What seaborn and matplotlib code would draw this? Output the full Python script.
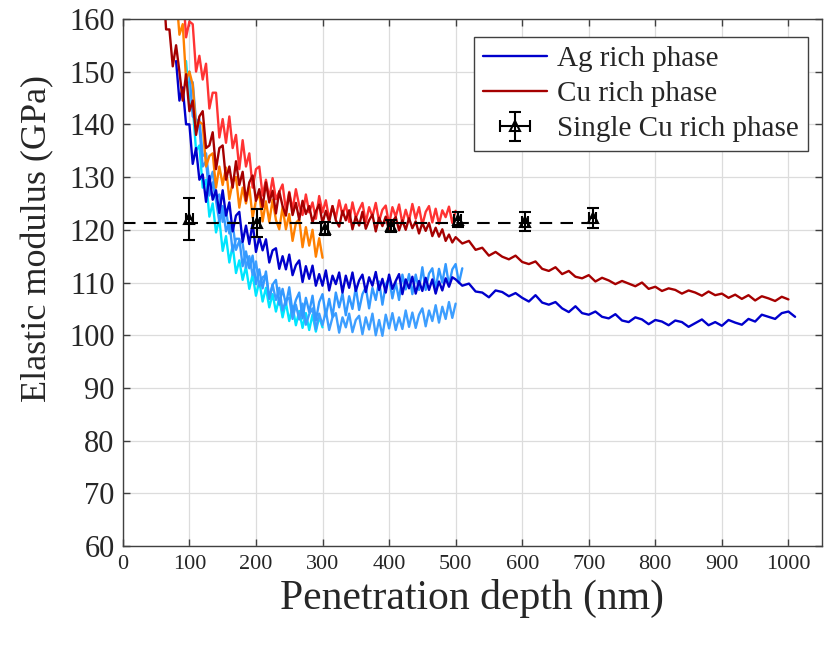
import matplotlib
matplotlib.use("Agg")
import matplotlib.pyplot as plt
import seaborn as sns
import numpy as np

# ---- data (depth in nm, modulus in GPa) ----
# Cu rich phase, long indent (dark red): 5 nm steps from 60 nm, then 10 nm steps from 500 nm
cu_long_a = [168, 158, 158, 151, 155, 150, 144.5, 149.5, 142.5, 144.5, 138, 141.5, 142.5,
             135.5, 136, 138.5, 131.5, 135.5, 136, 129.5, 132, 128, 133, 128.5, 131, 125.5,
             129, 130.3, 125.5, 127.7, 124.3, 129, 125.2, 127.4, 123.1, 127.3, 124.5, 122.7,
             127, 122.8, 125.1, 121.9, 125.5, 123, 124.5, 121.4, 123.5, 124.8, 121.3, 123.6,
             121.5, 124.5, 121.8, 120.6, 123.6, 121.8, 123.7, 120.1, 122.5, 120.8, 123.4,
             120.2, 121.8, 122.9, 119.7, 122.3, 120.7, 122.5, 119.8, 121.6, 122.4, 119.9,
             121.8, 120, 122.2, 120.3, 121.6, 119.3, 121.3, 119.8, 121.3, 118.8, 120.4,
             118.7, 120.1, 117.9, 119.1, 117.6]
cu_long_b = [118.6, 117.4, 117.9, 116.2, 116.6, 115.1, 115.8, 114.9, 114.4, 115.1, 113.9,
             113.5, 114, 112.6, 112.2, 112.9, 111.6, 112.2, 111.1, 110.8, 111.4, 110.2, 110.9,
             110.4, 109.7, 110.3, 109.8, 109.3, 110, 108.8, 109.2, 108.4, 108.9, 108.6, 107.9,
             108.5, 108.1, 107.5, 108.3, 107.6, 107.9, 107.1, 107.7, 106.9, 107.6, 106.6,
             107.4, 107, 106.5, 107.3, 106.8]

# Cu rich phase, 500 nm indent (bright red), 5 nm steps from 80 nm
cu_red = [168, 161, 166, 156.5, 159.5, 159, 150, 153, 148.5, 151.5, 143, 146, 146, 137.5,
          141, 136.5, 141.5, 135.5, 138, 131.5, 137, 132, 134.5, 128, 131.5, 132, 126.5,
          129.5, 126, 129.8, 125.8, 127.2, 128.6, 123.7, 127.2, 123.8, 127.7, 124.6, 122.8,
          126.7, 123.3, 125.2, 122.1, 126.4, 123.3, 125.6, 122, 124.5, 122.2, 125.6, 122.8,
          124.8, 121.5, 125.2, 122.3, 123.8, 125.1, 121.4, 124.3, 122.5, 125.1, 121.6,
          123.8, 124.6, 121, 124.3, 122.5, 124.8, 121.2, 123.8, 121.7, 124.9, 122.1, 124.3,
          120.9, 123.4, 124.5, 121.4, 124, 121.1, 123.7, 122.4, 124.4, 121.3, 123.6]

# Cu rich phase, 300 nm indent (orange), 5 nm steps from 80 nm
cu_orange = [165, 157, 159, 148.5, 150, 147.5, 139, 140.5, 140, 132, 134, 134.5, 128, 132,
             128.5, 131.8, 125.8, 129, 130, 124.2, 128, 125, 128.2, 122.3, 125.6, 126.8,
             121.6, 125.4, 121.5, 125.7, 121.9, 120.1, 124.3, 120.1, 123, 117.9, 121.3, 122,
             116.7, 120.5, 117, 120, 114.9, 118.4, 114.7]

# Ag rich phase, long indent (dark blue): 5 nm steps from 80 nm, then 10 nm steps from 500 nm
ag_long_a = [152, 144.5, 147, 140, 140, 132.5, 135.5, 129.5, 130.5, 125.3, 130.2, 125.7,
             127.5, 123.2, 127.5, 122.7, 125.2, 119.7, 122.7, 123.4, 117.7, 120.8, 117.3,
             121.3, 115.8, 118.6, 116.1, 118.2, 113.8, 116.1, 116.5, 112.6, 115, 112.5, 115.3,
             111.4, 113.3, 114.2, 110.1, 113.1, 110.7, 113.2, 109.4, 111.6, 109.4, 112.3,
             108.5, 111.3, 109.7, 111.9, 108.1, 111.3, 109, 111.9, 108.4, 110.4, 111.5, 108.2,
             111, 109.4, 112, 108.6, 110.7, 108.1, 111.5, 108.8, 110.3, 111.6, 107.8, 110.6,
             108.9, 111.1, 107.9, 110.3, 108.4, 110.9, 108.6, 110.6, 107.9, 110.2, 108.5,
             110.8, 109.2, 111]
ag_long_b = [110.6, 109.4, 109.8, 108.3, 108.1, 107.2, 108.5, 108.2, 107.4, 108, 107.1,
             106.4, 107.6, 106.2, 105.8, 106.3, 105.1, 104.4, 105.5, 104.2, 103.9, 104.5,
             103.5, 103.2, 104, 102.8, 102.5, 103.4, 103, 102.1, 102.9, 102.6, 101.9, 102.8,
             102.5, 101.6, 102.3, 103, 101.9, 102.5, 101.8, 102.9, 102.4, 102, 103.1, 102.6,
             103.9, 103.5, 103.1, 104.2, 104.5, 103.5]

# Ag rich phase, 300 nm indent (cyan), 5 nm steps from 95 nm
ag_cyan = [152, 144, 143.5, 135, 136, 128, 129.5, 122.5, 125, 119.5, 122, 116, 118.8, 113.8,
           117, 111.8, 114.2, 110.5, 113, 108.8, 111.5, 107.5, 110.2, 106.4, 109, 105.3,
           107.8, 104.5, 107, 103.4, 106.2, 102.7, 105.5, 101.9, 104.6, 101.4, 104.2, 101,
           103.9, 100.7, 103.5, 101.5]

# Ag rich phase, two 500 nm indents (light blue), 5 nm steps from 100 nm
ag_lb1 = [150, 141.5, 141, 139.5, 132, 133, 126.5, 129, 125.5, 121.5, 124.5, 119.7, 121.5,
          115.9, 118.3, 118.3, 113.1, 115.9, 112.7, 115.1, 109.7, 112.5, 108.9, 112.1, 106.9,
          109.6, 110.5, 105.8, 108.8, 105.8, 109.1, 104.4, 106.7, 108.1, 103.2, 107.1, 104.4,
          107.5, 102.8, 106.3, 107.8, 103.7, 106.9, 103.5, 108.1, 105.3, 107.9, 103.8, 107.4,
          105, 109.1, 104.8, 107.8, 109.1, 105.1, 109, 106.7, 110.2, 105.8, 109.6, 110.9,
          107, 110, 106.7, 111.5, 108.7, 111.6, 107.8, 111.5, 108.6, 112.9, 108.6, 111.7,
          112.7, 108.7, 112.6, 110, 113.5, 109.5, 112.5, 113.5, 109.9, 112.7]
ag_lb2 = [148, 148, 140.5, 141, 134, 134.5, 129, 131, 126, 126.7, 121.5, 123.8, 119.3, 121.2,
          116.2, 117.9, 117.4, 112.8, 115, 111.4, 114, 109.3, 111, 111.4, 107, 109.6, 106.7,
          109, 104.7, 106.7, 107.1, 103.1, 105.8, 103, 106, 102, 104, 105.1, 101.1, 104.1,
          101.9, 104.6, 101, 103.4, 104.2, 100.5, 103.4, 101.5, 104.1, 100.6, 102.9, 103.7,
          100.2, 103.4, 101.1, 104.1, 100, 102.9, 99.9, 103.9, 101.3, 104.2, 101, 103.4,
          101.2, 104.7, 101.6, 104.3, 101.4, 103.9, 105.1, 101.7, 104.7, 102.7, 105.7,
          102.4, 105.4, 103.1, 106.3, 103.3, 106]

# Single Cu rich phase (mean +/- std) and its average
single_x = [100, 201, 303, 403, 503, 604, 706]
single_y = [122, 121.3, 120.2, 120.7, 121.9, 121.5, 122.2]
single_yerr = [4, 2.6, 1.2, 1.1, 1.4, 1.8, 1.9]
single_xerr = [5, 5, 5, 5, 5, 5, 5]
mean_x = [0, 706]
mean_y = [121.2, 121.2]


def depth(start, step, values):
    return np.arange(len(values)) * step + start


sns.set_theme(style="ticks")
plt.rcParams['font.family'] = ['Liberation Serif', 'DejaVu Serif']

fig = plt.figure(figsize=(8.3, 6.51), dpi=100)
ax = fig.add_axes([0.148, 0.161, 0.842, 0.810])

lw = 1.7
# Ag curves underneath
sns.lineplot(x=depth(95, 5, ag_cyan), y=ag_cyan, color='#00E5FF', lw=lw, ax=ax)
sns.lineplot(x=depth(100, 5, ag_lb2), y=ag_lb2, color='#3D9EFF', lw=lw, ax=ax)
sns.lineplot(x=depth(100, 5, ag_lb1), y=ag_lb1, color='#3399FF', lw=lw, ax=ax)
ag_x = np.concatenate([depth(80, 5, ag_long_a), depth(500, 10, ag_long_b)])
sns.lineplot(x=ag_x, y=ag_long_a + ag_long_b, color='#0000CC', lw=lw, ax=ax,
             label='Ag rich phase')
# Cu curves on top
sns.lineplot(x=depth(80, 5, cu_orange), y=cu_orange, color='#FF8000', lw=lw, ax=ax)
sns.lineplot(x=depth(80, 5, cu_red), y=cu_red, color='#FF3333', lw=lw, ax=ax)
cu_x = np.concatenate([depth(60, 5, cu_long_a), depth(500, 10, cu_long_b)])
sns.lineplot(x=cu_x, y=cu_long_a + cu_long_b, color='#A50000', lw=lw, ax=ax,
             label='Cu rich phase')

ax.plot(mean_x, mean_y, ls='--', color='black', lw=1.5, dashes=(6, 4))
ax.errorbar(single_x, single_y, yerr=single_yerr, xerr=single_xerr, fmt='^',
            color='black', mfc='none', mec='black', ms=7, mew=1.5,
            elinewidth=1.5, capsize=4, capthick=1.5, label='Single Cu rich phase')

ax.set_xlim(0, 1050)
ax.set_ylim(60, 160)
ax.set_xticks(np.arange(0, 1001, 100))
ax.set_yticks(np.arange(60, 161, 10))
ax.grid(True, color='#dcdcdc', lw=0.9)
ax.set_axisbelow(True)
ax.tick_params(axis='both', direction='in', length=5, width=1, color='#404040',
               top=True, right=True)
ax.tick_params(axis='x', labelsize=16, pad=6)
ax.tick_params(axis='y', labelsize=22, pad=6)
for s in ax.spines.values():
    s.set_color('#404040')
    s.set_linewidth(1.0)

ax.set_xlabel('Penetration depth (nm)', fontsize=30, labelpad=4)
ax.set_ylabel('Elastic modulus (GPa)', fontsize=26)
ax.yaxis.set_label_coords(-0.098, 0.584)

handles, labels = ax.get_legend_handles_labels()
order = [labels.index(l) for l in ['Ag rich phase', 'Cu rich phase', 'Single Cu rich phase']]
leg = ax.legend([handles[i] for i in order], [labels[i] for i in order],
                loc='upper right', bbox_to_anchor=(0.980, 0.966), borderaxespad=0,
                fontsize=21, frameon=True, fancybox=False, framealpha=1,
                edgecolor='#404040', labelspacing=0.3, handlelength=2.2,
                handletextpad=0.35, borderpad=0.3)
leg.get_frame().set_linewidth(1.0)

fig.savefig('out.png', dpi=100)
